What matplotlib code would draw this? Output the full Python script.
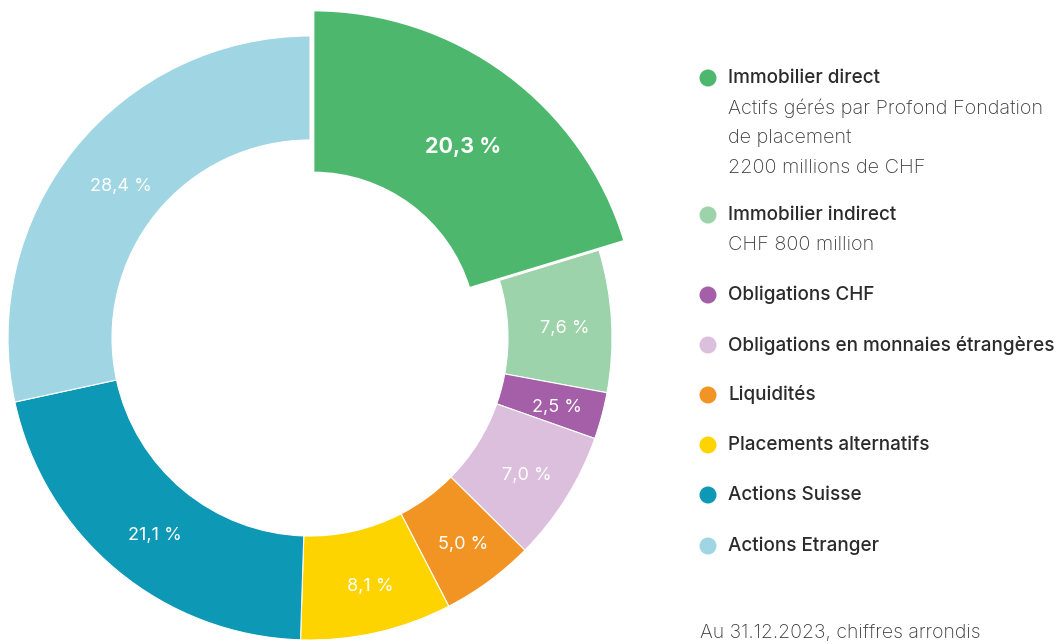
import numpy as np
import matplotlib.pyplot as plt

plt.rcParams['font.family'] = ['Inter', 'DejaVu Sans']

# data
categories = ['Immobilier direct', 'Immobilier indirect', 'Obligations CHF',
              'Obligations en monnaies étrangères', 'Liquidités',
              'Placements alternatifs', 'Actions Suisse', 'Actions Etranger']
shares = [20.3, 7.6, 2.5, 7.0, 5.0, 8.1, 21.1, 28.4]
pct_labels = ['20,3 %', '7,6 %', '2,5 %', '7,0 %', '5,0 %', '8,1 %', '21,1 %', '28,4 %']
notes = [['Actifs gérés par Profond Fondation', 'de placement', '2200 millions de CHF'],
         ['CHF 800 million'], [], [], [], [], [], []]
colors = ['#4db76e', '#9dd3aa', '#a55fa8', '#dcbfdc', '#f29423', '#fdd400', '#0d98b6', '#a0d6e3']
footnote = 'Au 31.12.2023, chiffres arrondis'

W, H = 1064, 644
fig = plt.figure(figsize=(W / 100, H / 100), dpi=100)
ax = fig.add_axes([0, 0, 1, 1])

cx, cy = 310, H - 338
R, ring = 302, 104
wedges, _ = ax.pie(shares, colors=colors, startangle=90, counterclock=False,
                   radius=R, center=(cx, cy), frame=True,
                   wedgeprops=dict(width=ring, edgecolor='white', linewidth=0.8))

# pulled out first slice (larger and thicker)
big = wedges[0]
big.set_center((313, H - 336))
big.set_radius(326)
big.set_width(326 - 163)
big.set_edgecolor('white')
big.set_linewidth(2)

for i, w in enumerate(wedges):
    mid = np.deg2rad((w.theta1 + w.theta2) / 2)
    if i == 0:
        r = 250
        x0, y0 = w.center
        ax.text(x0 + r * np.cos(mid) + 1, y0 + r * np.sin(mid) - 12, pct_labels[i],
                color='white', fontsize=15.5, fontweight='bold', ha='center', va='center')
    else:
        r = R - ring / 2
        ax.text(cx + r * np.cos(mid) + 5, cy + r * np.sin(mid) - 5, pct_labels[i],
                color='white', fontsize=13, ha='center', va='center')

# legend
ys = [78, 215, 295, 345, 395, 445, 495, 546]
for cat, col, y, sub in zip(categories, colors, ys, notes):
    ax.scatter([708], [H - y], s=150, color=col, edgecolors='none')
    ax.text(728, H - y, cat, fontsize=13.6, fontweight='medium', color='#2b2b2b',
            ha='left', va='center')
    for k, line in enumerate(sub):
        ax.text(728, H - y - 30 * (k + 1), line, fontsize=14.3, fontweight='light',
                color='#3c3c3c', ha='left', va='center')

ax.text(700, H - 633, footnote, fontsize=14, fontweight='light', color='#3c3c3c',
        ha='left', va='center')

ax.set_xlim(0, W)
ax.set_ylim(0, H)
ax.axis('off')
fig.savefig('out.png', dpi=100)
